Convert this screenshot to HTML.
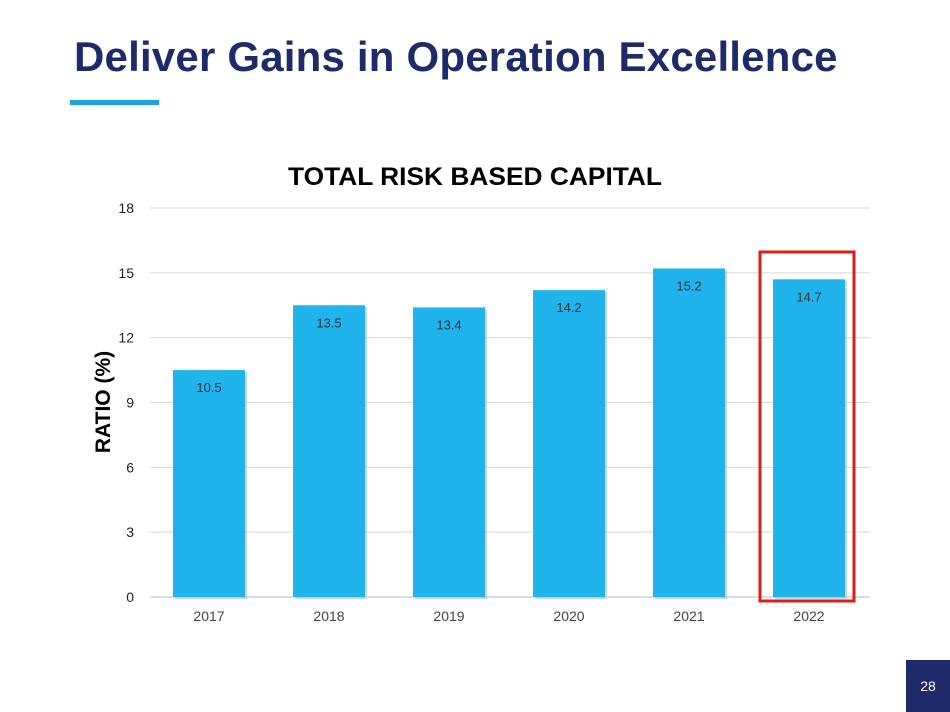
<!DOCTYPE html>
<html><head><meta charset="utf-8"><style>
body{margin:0;width:950px;height:712px;background:#fff;position:relative;overflow:hidden;font-family:"Liberation Sans",Arial,sans-serif}
</style></head><body>
<div style="position:absolute;left:74px;top:33px;font-size:42px;font-weight:bold;color:#1f2a6a;letter-spacing:0.2px">Deliver Gains in Operation Excellence</div>
<div style="position:absolute;left:70px;top:100px;width:89px;height:5px;background:#1aa3e0"></div>
<svg id="chart" width="950" height="712" style="position:absolute;left:0;top:0">
<text x="288" y="185" textLength="374" lengthAdjust="spacingAndGlyphs" font-size="25" font-weight="bold" fill="#000">TOTAL RISK BASED CAPITAL</text>
<text transform="translate(110,402) rotate(-90)" text-anchor="middle" font-size="21" font-weight="bold" fill="#000">RATIO (%)</text>
<g id="grid"></g><g id="bars"></g>
<rect x="760" y="252" width="94" height="349" fill="none" stroke="#e01b1b" stroke-width="3"/>
</svg>
<div style="position:absolute;left:906px;top:660px;width:44px;height:52px;background:#1f2a6a;color:#fff;font-size:14px;display:flex;align-items:center;justify-content:center">28</div>
<script>
const categories=["2017","2018","2019","2020","2021","2022"];
const values=[10.5,13.5,13.4,14.2,15.2,14.7];
const valueLabels=["10.5","13.5","13.4","14.2","15.2","14.7"];
const yTicks=[0,3,6,9,12,15,18];
const NS="http://www.w3.org/2000/svg";
const y0=597,y1=208,yMax=18,x0=149,step=120,bw=72;
const yS=v=>y0-(v/yMax)*(y0-y1);
const xC=i=>x0+step*i+step/2;
const grid=document.getElementById('grid'),bars=document.getElementById('bars');
function mk(t,a,p){const e=document.createElementNS(NS,t);for(const k in a)e.setAttribute(k,a[k]);p.appendChild(e);return e;}
yTicks.forEach(t=>{
 const l=mk('line',{x1:150,x2:870,y1:yS(t),y2:yS(t),stroke:t===0?'#bfbfbf':'#d9d9d9','stroke-width':1},grid);
 
 
 const tx=mk('text',{x:134,y:yS(t)+5,'text-anchor':'end','font-size':14,fill:'#222'},grid);
 tx.textContent=t;
 
 
});
categories.forEach((c,i)=>{
 const sh=mk('rect',{x:xC(i)-bw/2+2,y:yS(values[i])+2,width:bw,height:y0-yS(values[i]),fill:'#9fb8c4',opacity:0.5},bars);
 
 
 const r=mk('rect',{x:xC(i)-bw/2,y:yS(values[i]),width:bw,height:y0-yS(values[i]),fill:'#1fb4ec'},bars);
 
 
 const v=mk('text',{x:xC(i),y:yS(values[i])+22,'text-anchor':'middle','font-size':13,fill:'#333'},bars);
 v.textContent=valueLabels[i];
 
 
 const x=mk('text',{x:xC(i),y:621,'text-anchor':'middle','font-size':14,fill:'#444'},bars);
 x.textContent=c;
 
 
});
</script>
</body></html>
